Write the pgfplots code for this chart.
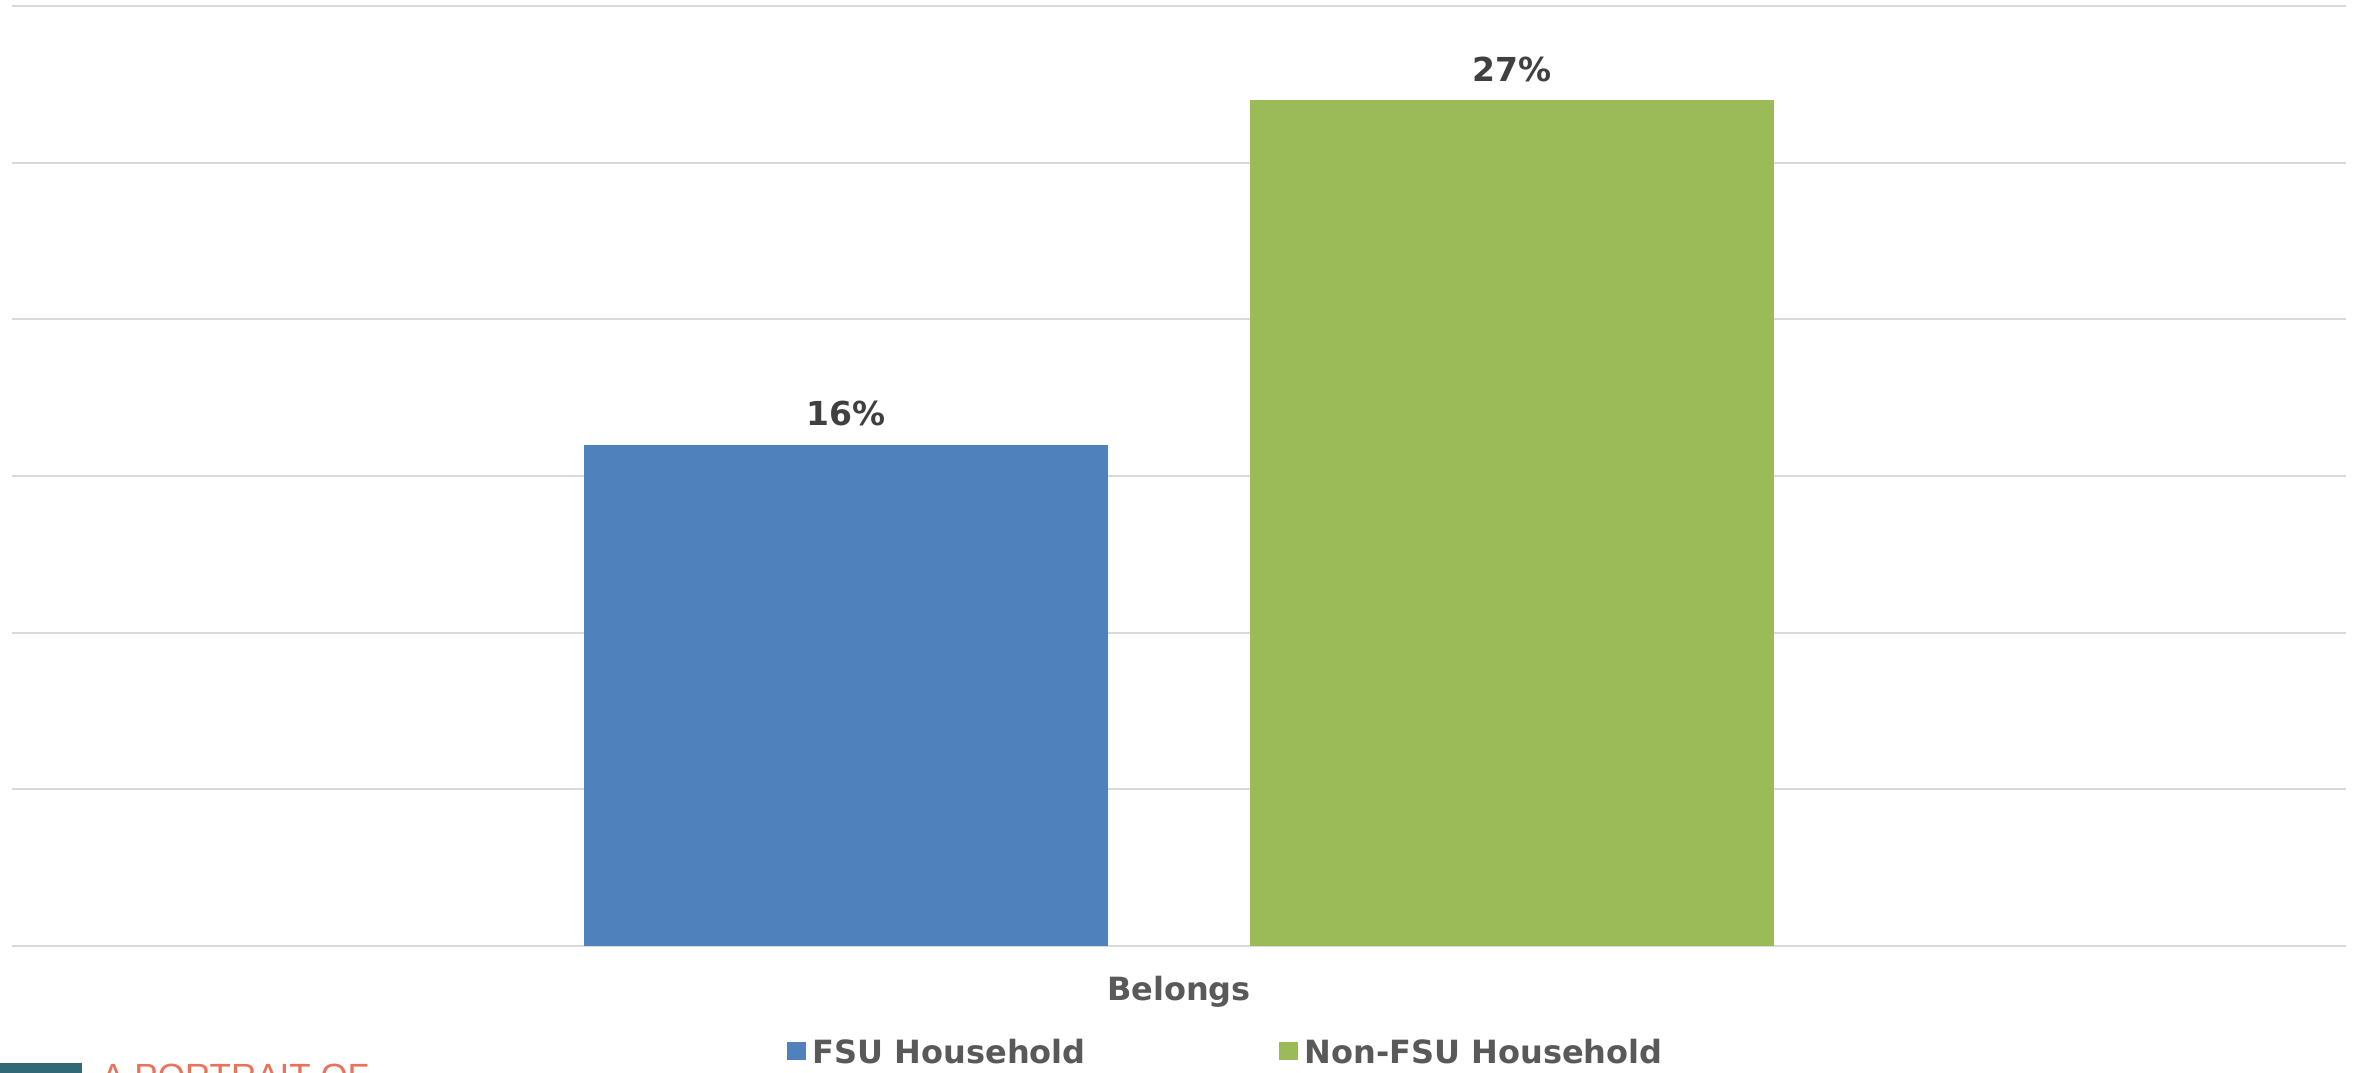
\documentclass[border=0pt]{standalone}
\usepackage{pgfplots}
\pgfplotsset{compat=1.18}
\usepackage{fontspec}
\setmainfont{DejaVu Sans}
\newfontfamily\arialfont{Liberation Sans}
\definecolor{barblue}{HTML}{4F81BD}
\definecolor{bargreen}{HTML}{9BBB59}
\definecolor{gridgray}{HTML}{D9D9D9}
\definecolor{lbltext}{HTML}{404040}
\definecolor{axtext}{HTML}{595959}
\definecolor{salmon}{HTML}{E8735A}
\definecolor{tealbox}{HTML}{336877}
\begin{document}
\begin{tikzpicture}
\useasboundingbox (0,0) rectangle (1180.5pt,536pt);
\begin{axis}[
  at={(6pt,63pt)}, anchor=south west,
  width=1167pt, height=470pt, scale only axis,
  /pgf/number format/assume math mode=true,
  xmin=-1, xmax=1, ymin=0, ymax=30,
  ytick={0,5,...,30}, yticklabels={},
  xtick={0}, xticklabels={Belongs},
  ymajorgrids, grid style={draw=gridgray, line width=1pt},
  axis line style={draw=none}, major tick length=0pt,
  xticklabel style={anchor=base, yshift=-27pt, font=\bfseries\fontsize{16}{19}\selectfont, text=axtext},
  ybar, bar width=0.449,
  nodes near coords={\pgfmathprintnumber{\pgfplotspointmeta}\%},
  every node near coord/.append style={font=\bfseries\fontsize{16.5}{19}\selectfont, text=lbltext, inner sep=0pt, yshift=9pt},
  legend columns=2,
  legend style={at={(rel axis cs:0.332,-0.1277)}, anchor=south west, draw=none, fill=none,
    inner sep=0pt, outer sep=0pt,
    font=\bfseries\fontsize{16}{19}\selectfont, text=axtext,
    nodes={inner sep=0pt},
    /tikz/every odd column/.append style={column sep=3.5pt},
    /tikz/every even column/.append style={column sep=96.5pt}},
  legend image code/.code={\fill[#1] (0pt,-4pt) rectangle (9.5pt,5pt);},
]
\addplot[fill=barblue, draw=none, bar shift=-0.2853] coordinates {(0,16)};
\addlegendentry{FSU Household}
\addplot[fill=bargreen, draw=none, bar shift=0.285] coordinates {(0,27)};
\addlegendentry{Non-FSU Household}
\end{axis}
\fill[tealbox] (0pt,-5pt) rectangle (41pt,4.5pt);
\node[anchor=base west, inner sep=0pt, text=salmon, font=\arialfont\fontsize{17.5}{20}\selectfont] at (50.5pt,-8pt) {A PORTRAIT OF};
\end{tikzpicture}
\end{document}
